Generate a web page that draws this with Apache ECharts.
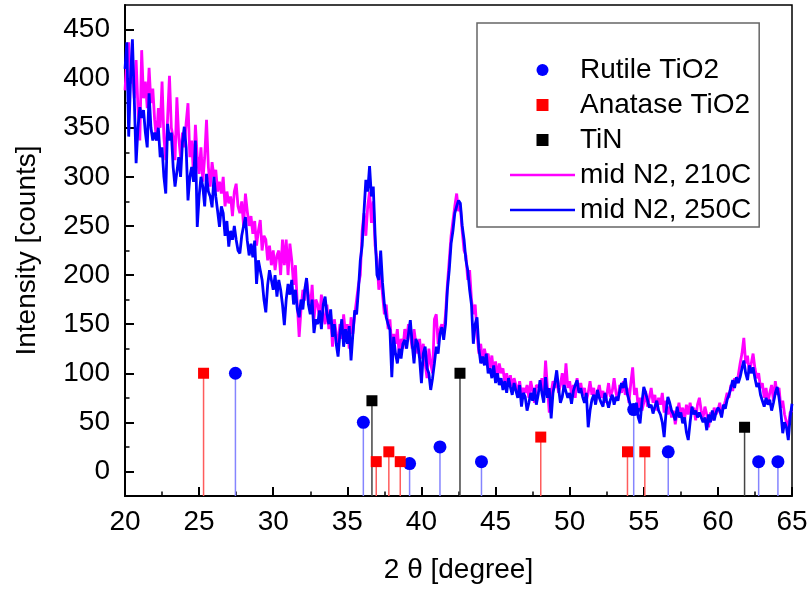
<!DOCTYPE html>
<html>
<head>
<meta charset="utf-8">
<script src="https://cdn.jsdelivr.net/npm/echarts@6/dist/echarts.min.js"></script>
<style>
  html, body { margin: 0; padding: 0; background: #fff; }
  #chart { width: 811px; height: 591px; }
</style>
</head>
<body>
<div id="chart"></div>
<script>
// XRD scans sampled every 0.125 degree from 20 to 65
var X_START = 20, X_STEP = 0.125;

var mid210 = [
  388, 420, 437, 395, 410, 380, 419, 370,
  337, 429, 380, 397, 370, 411, 375, 390,
  358, 337, 370, 350, 397, 340, 317, 360,
  403, 350, 340, 317, 381, 340, 320, 345,
  330, 355, 375, 320, 337, 300, 353, 320,
  303, 330, 295, 320, 358, 310, 290, 315,
  300, 307, 285, 295, 283, 300, 270, 285,
  273, 280, 260, 285, 293, 270, 263, 275,
  250, 283, 265, 250, 260, 242, 255, 230,
  245, 256, 225, 240, 236, 215, 230, 210,
  225, 205, 220, 225, 200, 236, 210, 236,
  200, 232, 215, 190, 210, 170, 137, 165,
  185, 174, 195, 180, 165, 190, 155, 175,
  170, 155, 180, 160, 150, 170, 145, 160,
  127, 155, 140, 130, 150, 135, 160, 140,
  150, 125, 157, 140, 160, 175, 190, 200,
  245, 263, 240, 270, 285, 253, 275, 230,
  215, 185, 205, 180, 160, 170, 145, 155,
  125, 140, 130, 145, 118, 135, 125, 145,
  135, 150, 140, 125, 145, 130, 120, 135,
  115, 130, 110, 95, 125, 110, 100, 155,
  160, 130, 145, 150, 140, 160, 190, 215,
  240, 255, 270, 283, 265, 270, 245, 225,
  220, 195, 205, 175, 160, 170, 140, 120,
  130, 110, 125, 115, 120, 105, 118, 100,
  112, 95, 110, 100, 105, 90, 100, 88,
  98, 85, 95, 88, 80, 92, 78, 85,
  80, 88, 75, 92, 82, 70, 88, 90,
  85, 95, 78, 113, 85, 60, 80, 92,
  85, 95, 80, 88, 100, 82, 110, 85,
  92, 78, 88, 75, 95, 82, 90, 78,
  85, 72, 80, 92, 78, 85, 70, 80,
  88, 75, 82, 70, 78, 90, 76, 82,
  95, 80, 72, 88, 80, 92, 78, 85,
  70, 90, 106, 78, 85, 65, 75, 62,
  70, 82, 66, 75, 85, 70, 78, 62,
  75, 68, 80, 60, 72, 58, 66, 55,
  62, 48, 60, 70, 55, 65, 52, 68,
  58, 70, 60, 65, 52, 68, 75, 62,
  55, 66, 58, 45, 60, 52, 65, 58,
  62, 70, 58, 65, 72, 80, 75, 88,
  82, 95, 90, 98, 110, 120, 136, 110,
  118, 100, 110, 120, 105, 95, 100, 85,
  90, 75, 85, 70, 80, 88, 72, 92,
  78, 85, 65, 72, 58, 50, 45, 60,
  62
];

var mid250 = [
  410, 437, 341, 400, 440, 380, 314, 350,
  371, 360, 368, 345, 330, 385, 350, 337,
  345, 337, 350, 320, 330, 300, 283, 354,
  337, 345, 310, 290, 305, 320, 300, 335,
  351, 330, 276, 300, 310, 295, 337, 249,
  280, 300, 290, 270, 303, 285, 280, 269,
  300, 280, 265, 249, 270, 263, 240, 255,
  229, 245, 236, 250, 236, 225, 222, 240,
  250, 259, 235, 220, 232, 218, 235, 191,
  215, 205, 195, 175, 162, 190, 205, 195,
  185, 200, 178, 195, 185, 170, 149, 175,
  191, 180, 195, 170, 185, 165, 157, 175,
  165, 185, 197, 170, 160, 175, 141, 155,
  150, 164, 145, 170, 178, 160, 150, 165,
  137, 150, 130, 117, 140, 155, 127, 145,
  130, 148, 113, 140, 164, 160, 185, 215,
  230, 265, 297, 285, 311, 280, 290, 240,
  200, 195, 225, 192, 170, 157, 150, 144,
  96, 137, 120, 110, 125, 115, 130, 134,
  125, 140, 154, 130, 110, 135, 130, 115,
  90, 120, 127, 105, 100, 83, 95, 110,
  127, 120, 140, 147, 134, 150, 185, 205,
  232, 245, 263, 270, 276, 273, 250, 236,
  215, 205, 185, 170, 130, 150, 157, 125,
  110, 117, 108, 120, 100, 105, 95, 108,
  90, 100, 88, 95, 83, 92, 80, 95,
  86, 78, 90, 82, 75, 88, 66, 80,
  76, 62, 70, 80, 72, 85, 68, 78,
  93, 80, 70, 96, 75, 85, 54, 80,
  90, 103, 85, 70, 76, 88, 90, 75,
  80, 69, 82, 88, 93, 80, 85, 76,
  70, 80, 45, 62, 73, 78, 68, 83,
  75, 70, 66, 80, 72, 65, 73, 78,
  68, 76, 72, 82, 90, 85, 95, 80,
  73, 65, 64, 62, 70, 55, 49, 70,
  86, 80, 73, 65, 68, 59, 66, 72,
  62, 58, 50, 35, 60, 76, 70, 62,
  58, 52, 66, 55, 60, 49, 55, 40,
  32, 50, 66, 58, 62, 55, 60, 59,
  50, 55, 42, 58, 50, 62, 52, 60,
  65, 62, 55, 68, 64, 73, 78, 85,
  93, 85, 96, 90, 96, 105, 113, 100,
  93, 108, 100, 106, 95, 86, 90, 78,
  72, 66, 75, 68, 73, 62, 70, 80,
  86, 75, 60, 39, 50, 45, 32, 55,
  69
];

// reference peak positions (2 theta) and relative intensities
var rutileX  = [27.45, 36.08, 39.2, 41.25, 44.05, 54.32, 56.65, 62.75, 64.05];
var rutileY  = [100, 50, 8, 25, 10, 63, 20, 10, 10];
var anataseX = [25.3, 36.95, 37.8, 38.57, 48.05, 53.9, 55.07];
var anataseY = [100, 10, 20, 10, 35, 20, 20];
var tinX     = [36.66, 42.6, 61.8];
var tinY     = [72, 100, 45];

var yMajor = [0, 50, 100, 150, 200, 250, 300, 350, 400, 450];
var yMinor = [25, 75, 125, 175, 225, 275, 325, 375, 425];

var Y_MIN = -25, Y_MAX = 475;
var FONT = "'Liberation Sans', Arial, sans-serif";
var SQUARE_ICON = 'path://M0 0H10V10H0Z';
var LINE_ICON = 'path://M0 0H26V1H0Z';

function scan(vals) {
  return vals.map(function (v, i) { return [X_START + i * X_STEP, v]; });
}
function sticks(xs, ys) {
  return xs.map(function (x, i) { return [x, ys[i]]; });
}
function stemSeries(xs, ys, color) {
  return {
    type: 'custom',
    silent: true,
    data: sticks(xs, ys),
    encode: { x: 0, y: 1 },
    renderItem: function (params, api) {
      var x = api.value(0), y = api.value(1);
      var a = api.coord([x, Y_MIN]);
      var b = api.coord([x, y]);
      return {
        type: 'line',
        shape: { x1: a[0], y1: a[1], x2: b[0], y2: b[1] },
        style: { stroke: color, lineWidth: 1.5 }
      };
    }
  };
}

var chart = echarts.init(document.getElementById('chart'));
chart.setOption({
  animation: false,
  textStyle: { fontFamily: FONT, color: '#000' },
  grid: { left: 125, right: 19, top: 5, bottom: 95, show: true, borderColor: '#000', borderWidth: 1.5 },
  legend: {
    orient: 'vertical',
    left: 477, top: 23,
    padding: [32, 8, 2, 33],
    itemWidth: 65, itemHeight: 12, itemGap: 5,
    symbolKeepAspect: true,
    borderColor: '#666', borderWidth: 1.5,
    textStyle: { fontSize: 28, fontFamily: FONT, color: '#000', lineHeight: 30 },
    data: [
      { name: 'Rutile TiO2', icon: 'circle' },
      { name: 'Anatase TiO2', icon: SQUARE_ICON },
      { name: 'TiN', icon: SQUARE_ICON },
      { name: 'mid N2, 210C', icon: LINE_ICON },
      { name: 'mid N2, 250C', icon: LINE_ICON }
    ]
  },
  xAxis: {
    type: 'value', min: 20, max: 65, interval: 5,
    name: '2 θ [degree]', nameLocation: 'middle', nameGap: 60,
    nameTextStyle: { fontSize: 28, fontFamily: FONT, color: '#000' },
    axisLine: { onZero: false, lineStyle: { color: '#000', width: 2 } },
    axisTick: { inside: true, length: 9, lineStyle: { color: '#000', width: 2 } },
    minorTick: { show: true, splitNumber: 2, length: 4.5, lineStyle: { color: '#000', width: 1.5 } },
    axisLabel: { fontSize: 28, margin: 12, color: '#000', fontFamily: FONT },
    splitLine: { show: false }
  },
  yAxis: [{
    type: 'value', min: Y_MIN, max: Y_MAX, position: 'left',
    name: 'Intensity [counts]', nameLocation: 'middle', nameGap: 84,
    nameTextStyle: { fontSize: 28, fontFamily: FONT, color: '#000' },
    axisLine: { show: true, lineStyle: { color: '#000', width: 2 } },
    axisTick: { show: true, inside: true, length: 9, customValues: yMajor, lineStyle: { color: '#000', width: 2 } },
    axisLabel: { customValues: yMajor, fontSize: 28, margin: 15, color: '#000', fontFamily: FONT },
    splitLine: { show: false }
  }, {
    type: 'value', min: Y_MIN, max: Y_MAX, position: 'left',
    axisLine: { show: false },
    axisTick: { show: true, inside: true, length: 4.5, customValues: yMinor, lineStyle: { color: '#000', width: 1.5 } },
    axisLabel: { show: false },
    splitLine: { show: false }
  }],
  series: [
    stemSeries(rutileX, rutileY, '#8585ff'),
    stemSeries(anataseX, anataseY, '#ff5c5c'),
    stemSeries(tinX, tinY, '#444444'),
    { name: 'Rutile TiO2', type: 'scatter', symbol: 'circle', symbolSize: 13,
      itemStyle: { color: '#0000ff', opacity: 1 }, data: sticks(rutileX, rutileY) },
    { name: 'Anatase TiO2', type: 'scatter', symbol: 'rect', symbolSize: 11,
      itemStyle: { color: '#ff0000', opacity: 1 }, data: sticks(anataseX, anataseY) },
    { name: 'TiN', type: 'scatter', symbol: 'rect', symbolSize: 11,
      itemStyle: { color: '#000000', opacity: 1 }, data: sticks(tinX, tinY) },
    { name: 'mid N2, 210C', type: 'line', symbol: 'none', data: scan(mid210),
      itemStyle: { color: '#ff00ff' }, lineStyle: { color: '#ff00ff', width: 2.8 } },
    { name: 'mid N2, 250C', type: 'line', symbol: 'none', data: scan(mid250),
      itemStyle: { color: '#0000ff' }, lineStyle: { color: '#0000ff', width: 2.8 } }
  ]
});
</script>
</body>
</html>
